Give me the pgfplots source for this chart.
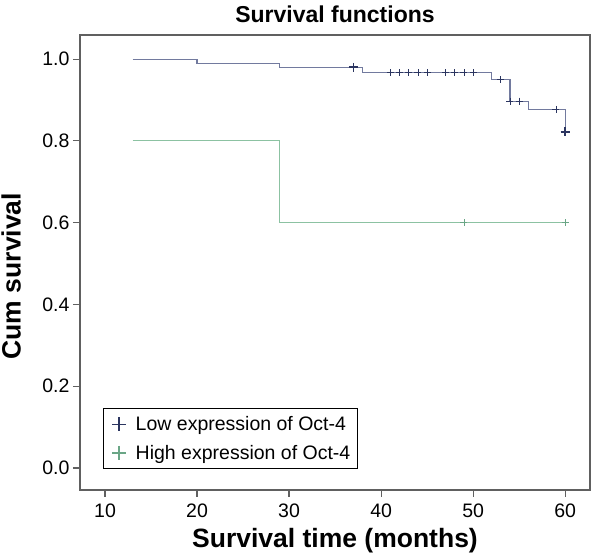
\documentclass[border=0pt]{standalone}
\usepackage{pgfplots}
\pgfplotsset{compat=1.18}
\usepackage{fontspec}
\setmainfont{Liberation Sans}
\definecolor{lowline}{HTML}{727A9E}
\definecolor{lowmark}{HTML}{2B3560}
\definecolor{highline}{HTML}{8CC2A2}
\definecolor{highmark}{HTML}{6AA686}
\definecolor{framec}{HTML}{606060}
\begin{document}
\begin{tikzpicture}[x=1pt,y=1pt]
\path[use as bounding box] (-80,-69) rectangle (512,490);
\begin{axis}[
  at={(0,0)}, anchor=south west,
  scale only axis, width=510pt, height=455pt,
  xmin=7.28, xmax=62.7, ymin=-0.054, ymax=1.059,
  xtick={10,20,30,40,50,60},
  ytick={0,0.2,0.4,0.6,0.8,1.0},
  yticklabel style={/pgf/number format/.cd,fixed,fixed zerofill,precision=1},
  /pgf/number format/assume math mode=true,
  tick align=outside, xtick pos=bottom, ytick pos=left,
  major tick length=7pt,
  tick style={framec, line width=1.2pt},
  axis line style={framec, line width=1.2pt},
  ticklabel style={font=\fontsize{19.5}{21}\selectfont},
  xticklabel style={yshift=-3pt},
  title={\textbf{Survival functions}},
  title style={font=\fontsize{23}{25}\selectfont, at={(0.5,1)}, anchor=south, yshift=3pt},
  xlabel={\textbf{Survival time (months)}},
  ylabel={\textbf{Cum survival}},
  label style={font=\fontsize{26.5}{28}\selectfont},
  xlabel style={at={(axis description cs:0.5,0)}, anchor=center, yshift=-51pt},
  ylabel style={at={(axis description cs:-0.135,0.47)}, anchor=center, rotate=0},
  legend style={at={(0.045,0.046)}, anchor=south west, draw=black, line width=0.8pt,
    font=\fontsize{19.5}{21}\selectfont, row sep=9pt, inner xsep=5pt, inner ysep=6pt},
  legend cell align=left,
  legend image code/.code={\draw[#1] plot coordinates {(10pt,0pt)}; \path (0pt,0pt) (24pt,0pt);},
]
\addlegendimage{only marks, mark=+, mark size=7pt, lowmark, line width=1.4pt}
\addlegendentry{Low expression of Oct-4}
\addlegendimage{only marks, mark=+, mark size=7pt, highmark, line width=1.4pt}
\addlegendentry{High expression of Oct-4}
% Low expression KM curve
\addplot[const plot, lowline, line width=1.2pt, forget plot] coordinates {
 (13,1.0) (20,0.990) (29,0.980) (38,0.967) (52,0.950) (54,0.897) (56,0.877) (60,0.822)
};
\addplot[only marks, mark=+, mark size=3.5pt, lowmark, line width=0.8pt, forget plot] coordinates {
 (41,0.967) (42,0.967) (43,0.967) (44,0.967) (45,0.967) (47,0.967) (48,0.967) (49,0.967) (50,0.967)
 (53,0.950) (54,0.897) (55,0.897) (59,0.877)
};
\addplot[only marks, mark=+, mark size=4.5pt, lowmark, line width=1.6pt, forget plot] coordinates {
 (37,0.980) (60,0.822)
};
% High expression KM curve
\addplot[const plot, highline, line width=1.2pt, forget plot] coordinates {
 (13,0.8) (29,0.6) (60,0.6)
};
\addplot[only marks, mark=+, mark size=3.5pt, highmark, line width=0.8pt, forget plot] coordinates {
 (49,0.6) (60,0.6)
};
\end{axis}
\end{tikzpicture}
\end{document}
